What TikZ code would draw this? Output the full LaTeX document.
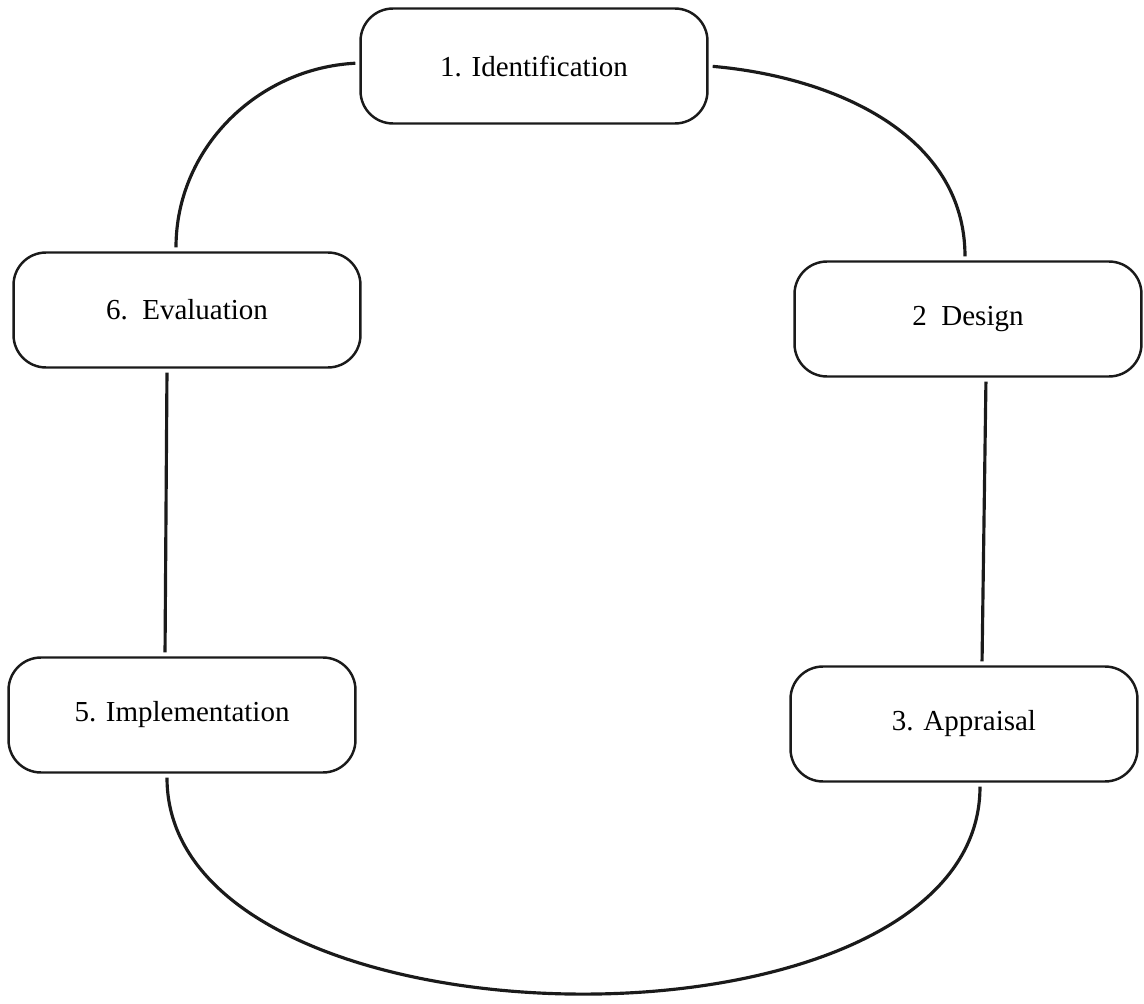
\documentclass[tikz,border=0pt]{standalone}
\usepackage{fontspec}
\setmainfont{Liberation Serif}
\usepackage{tikz}
\usetikzlibrary{positioning,calc}
\definecolor{ink}{HTML}{1A1A1A}

\begin{document}
\begin{tikzpicture}[x=0.02cm,y=-0.02cm,
  every node/.style={font=\fontsize{16.5}{20}\selectfont},
  stage/.style={draw=ink,line width=1.4pt,rounded corners=0.65cm,minimum width=6.94cm,minimum height=2.3cm,align=center},
  link/.style={draw=ink,line width=1.8pt,shorten <=0.08cm,shorten >=0.08cm}]
  \useasboundingbox (0,0) rectangle (1144,1004);
  \node[stage] (ident) at (534,66) {1. Identification};
  \node[stage] (design) at (968,319) {2\enspace Design};
  \node[stage] (apprais) at (964,724) {3. Appraisal};
  \node[stage] (implem) at (182,715) {5. Implementation};
  \node[stage] (evalu) at (187,310) {6.\enspace Evaluation};
  \draw[link] (ident.east) to[out=-5,in=90] ([xshift=-0.06cm]design.north);
  \draw[link] ([xshift=0.36cm]design.south) -- ([xshift=0.36cm]apprais.north);
  \draw[link] ([xshift=0.32cm]apprais.south) to[out=-90,in=-90,looseness=0.9] ([xshift=-0.3cm]implem.south);
  \draw[link] ([xshift=-0.4cm]evalu.south) -- ([xshift=-0.34cm]implem.north);
  \draw[link] ([xshift=-0.22cm]evalu.north) to[out=90,in=183] ([yshift=0.06cm]ident.west);
\end{tikzpicture}
\end{document}
